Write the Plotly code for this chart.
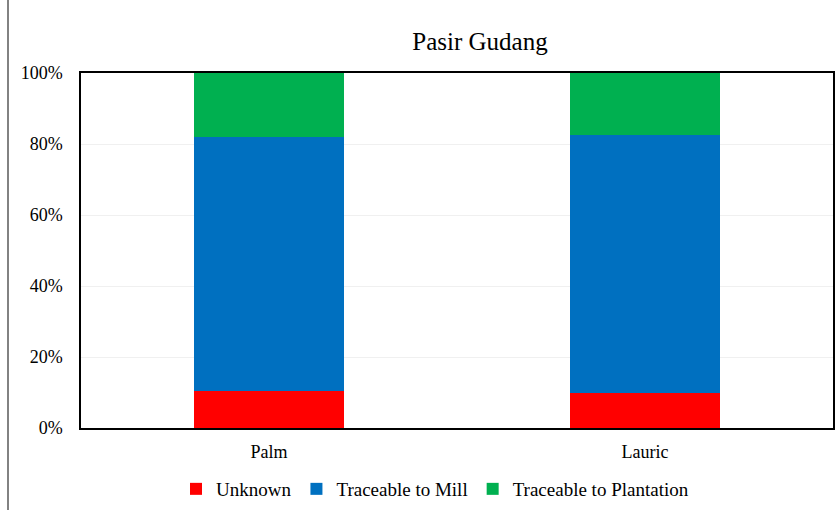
import plotly.graph_objects as go

categories = ["Palm", "Lauric"]
unknown = [10.4, 9.9]
mill = [71.6, 72.7]
plantation = [18.0, 17.4]
tick_vals = [0, 20, 40, 60, 80, 100]
tick_text = ["0%", "20%", "40%", "60%", "80%", "100%"]

fig = go.Figure()
fig.add_bar(x=categories, y=unknown, name="Unknown", marker_color="#FF0000", marker_line_width=0)
fig.add_bar(x=categories, y=mill, name="Traceable to Mill", marker_color="#0070C0", marker_line_width=0)
fig.add_bar(x=categories, y=plantation, name="Traceable to Plantation", marker_color="#00B050", marker_line_width=0)

L, R, T, B = 81, 7, 73, 82
W, H = 840, 510
pw, ph = W - L - R, H - T - B

fig.update_layout(
    width=W, height=H,
    margin=dict(l=L, r=R, t=T, b=B, autoexpand=False),
    barmode="stack", bargap=0.6,
    paper_bgcolor="white", plot_bgcolor="white",
    font=dict(family="Liberation Serif, Times New Roman, serif", size=18, color="#000000"),
    title=dict(text="Pasir Gudang", x=(480 - L) / pw, xref="paper", xanchor="center",
               y=1 - 41 / H, yanchor="middle", font=dict(size=25)),
    legend=dict(orientation="h", x=0.5 + (435 - (L + pw / 2)) / pw, xanchor="center",
                y=-(489 - (T + ph)) / ph, yanchor="middle",
                font=dict(size=19), itemwidth=30, traceorder="normal"),
    xaxis=dict(showline=True, linecolor="#000000", linewidth=1.5, mirror=True,
               ticks="", tickfont=dict(size=18), automargin=False, ticklabelstandoff=7),
    yaxis=dict(range=[0, 100], tickvals=tick_vals, ticktext=tick_text,
               showgrid=True, gridcolor="#F0F0F0", gridwidth=1,
               showline=True, linecolor="#000000", linewidth=1.5, mirror=True,
               ticks="", tickfont=dict(size=18), automargin=False, ticklabelstandoff=13),
    shapes=[dict(type="rect", xref="paper", yref="paper",
                 x0=(8 - L) / pw, x1=(W + 5 - L) / pw,
                 y0=-(H + 5 - (T + ph)) / ph, y1=(T + ph + 5) / ph,
                 line=dict(color="#595959", width=1.5), layer="below")],
)
fig.write_html(
    "out.html",
    config={"displayModeBar": False},
    post_script="document.body.style.margin='0';document.body.style.overflow='hidden';",
)
